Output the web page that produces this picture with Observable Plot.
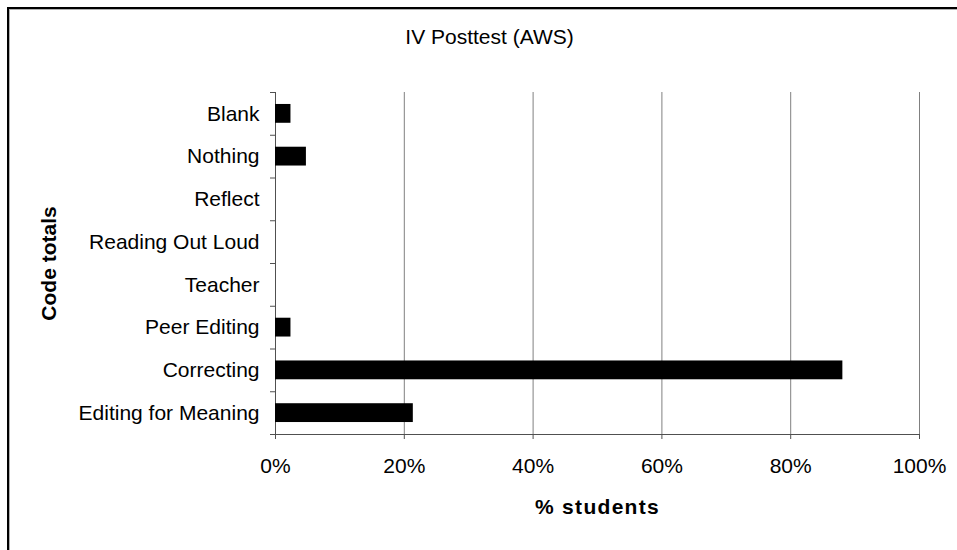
<!DOCTYPE html>
<html>
<head>
<meta charset="utf-8">
<script src="https://cdn.jsdelivr.net/npm/d3@7"></script>
<script src="https://cdn.jsdelivr.net/npm/@observablehq/plot@0.6"></script>
<style>
  html, body { margin: 0; padding: 0; background: #fff; }
  #wrap { position: relative; width: 957px; height: 550px; overflow: hidden; }
  #frame { position: absolute; left: 7px; top: 7px; width: 1000px; height: 600px;
           border-left: 2px solid #000; border-top: 2px solid #000;
           box-shadow: inset 1px 1px 0 #b0b0b0; pointer-events: none; }
</style>
</head>
<body>
<div id="wrap"><div id="frame"></div></div>
<script>
const title = "IV Posttest (AWS)";
const xTitle = "% students";
const yTitle = "Code totals";
const categories = ["Blank", "Nothing", "Reflect", "Reading Out Loud", "Teacher", "Peer Editing", "Correcting", "Editing for Meaning"];
const values = [2.4, 4.8, 0, 0, 0, 2.4, 88.1, 21.4];
const xTicks = [0, 20, 40, 60, 80, 100];
const xTickLabels = ["0%", "20%", "40%", "60%", "80%", "100%"];

const data = categories.map((c, i) => ({category: c, index: i, value: values[i]}));
const indices = categories.map((c, i) => i);
const yDomain = [-0.5, categories.length - 0.5];
const boundaries = d3.range(categories.length + 1).map(i => i - 0.5);
const half = 0.22;
const axisColor = "#505050";

const chart = Plot.plot({
  width: 957,
  height: 550,
  marginLeft: 275,
  marginRight: 38,
  marginTop: 92,
  marginBottom: 116,
  style: {fontFamily: "'Liberation Sans', Arial, sans-serif", fontSize: "21px", color: "#000", background: "transparent"},
  x: {domain: [0, 100]},
  y: {domain: yDomain, reverse: true},
  marks: [
    Plot.gridX(xTicks.slice(1), {stroke: "#808080", strokeOpacity: 1}),
    Plot.ruleX([0], {stroke: axisColor}),
    Plot.ruleY([yDomain[1]], {stroke: axisColor}),
    Plot.rectX(data.filter(d => d.value > 0), {
      x1: 0, x2: "value",
      y1: d => d.index - half, y2: d => d.index + half,
      fill: "#000"
    }),
    Plot.axisX(xTicks, {
      tickFormat: (d, i) => xTickLabels[xTicks.indexOf(d)],
      tickSize: 5, tickPadding: 19, stroke: axisColor, fill: "#000", label: null
    }),
    Plot.axisY(boundaries, {tickSize: 5, tickFormat: () => "", stroke: axisColor, label: null}),
    Plot.axisY(indices, {tickSize: 0, tickPadding: 16, tickFormat: i => categories[i], fill: "#000", label: null}),
    Plot.text([title], {frameAnchor: "top", dx: -108, dy: -49, lineAnchor: "bottom", fill: "#000"}),
    Plot.text([xTitle], {frameAnchor: "bottom", dy: 73, lineAnchor: "middle", fontWeight: "bold", fill: "#000"}),
    Plot.text([yTitle], {frameAnchor: "left", dx: -226, rotate: -90, lineAnchor: "middle", textAnchor: "middle", fontWeight: "bold", fill: "#000"})
  ]
});

d3.select(chart).selectAll("text").filter(function() { return this.textContent === xTitle; })
  .attr("letter-spacing", "1.3px");

document.getElementById("wrap").prepend(chart);
</script>
</body>
</html>
